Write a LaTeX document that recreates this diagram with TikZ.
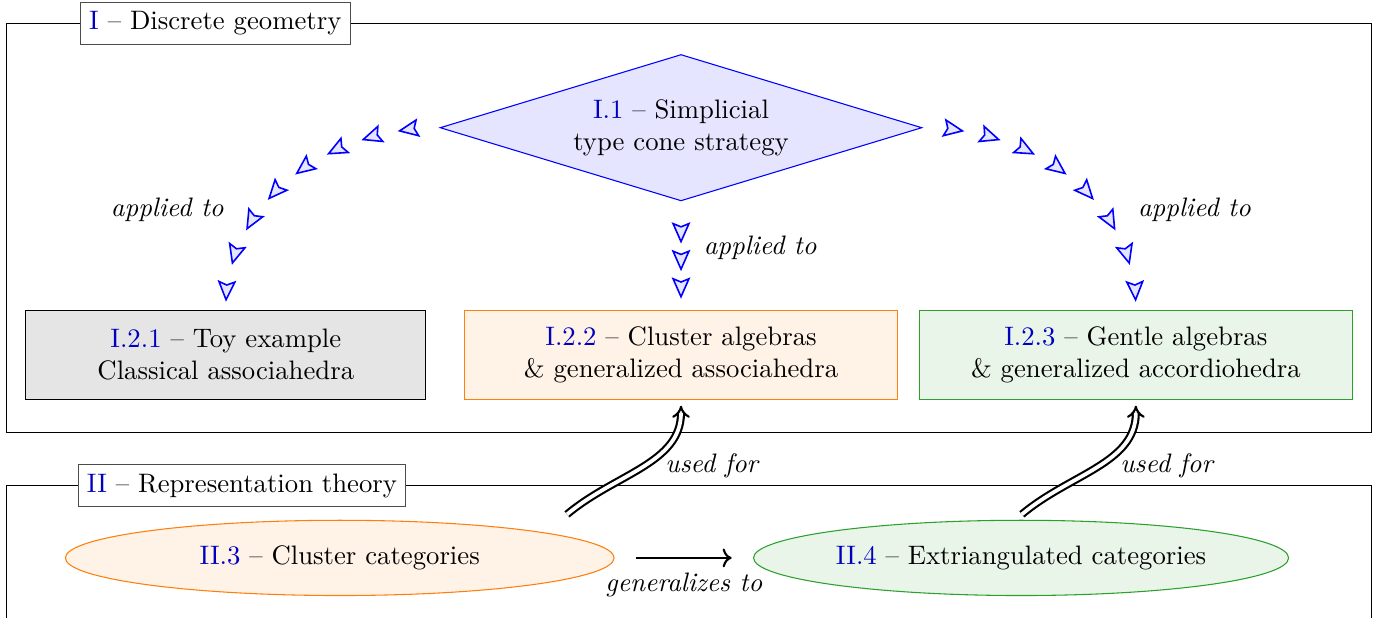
\documentclass[tikz,border=0pt]{standalone}
\usepackage{tikz}
\usepackage{xcolor}
\usetikzlibrary{positioning, shapes.geometric, arrows.meta, decorations.markings}
\definecolor{taborange}{RGB}{255,127,14}
\definecolor{tabgreen}{RGB}{44,160,44}
\newcommand{\partnum}[1]{\textcolor{blue!75!black}{#1}}
\tikzstyle{part title}=[
        draw = black!70,
        fill = white,
        anchor = west
    ]
\tikzstyle{strategy}=[
        draw = blue,
        fill = blue!10,
        diamond,
        aspect = 3.23,
        align = center,
        minimum width = 6.34cm
    ]
\tikzstyle{result}=[
        draw,
        rectangle,
        align = center,
        minimum width = 5.69cm,
        minimum height = 1.18cm
    ]
\tikzstyle{category}=[
        draw,
        ellipse,
        inner sep = 1.5pt,
        minimum height = 0.99cm
    ]
\tikzstyle{applied arc}=[
        postaction = {decorate},
        decoration = {markings, mark = between positions 0.135 and 0.98 step 0.12 with
          {\arrow{Stealth[length = 8pt, width = 7pt, inset = 1.4pt, line width = 0.6pt, color = blue, fill = blue!10]}}}
    ]
\tikzstyle{applied line}=[
        postaction = {decorate},
        decoration = {markings, mark = between positions 0.39 and 0.92 step 0.255 with
          {\arrow{Stealth[length = 8pt, width = 7pt, inset = 1.4pt, line width = 0.6pt, color = blue, fill = blue!10]}}}
    ]
\tikzstyle{used for}=[
        thick,
        double,
        double distance = 1.4pt,
        -Implies,
        shorten >= 2pt
    ]

\begin{document}
\begin{tikzpicture}[node distance={1.41cm}]
        \useasboundingbox (-8.96,1.68) rectangle (9.17,-6.45);
        \clip (-8.96,1.68) rectangle (9.17,-6.45);

        % part I
        \draw (-8.88,1.37) rectangle (9.08,-4.01);
        \node[part title] (tI) at (-7.91,1.37) {\partnum{I} -- Discrete geometry};

        \node[strategy] (strat) at (0,0) {\partnum{I.1} -- Simplicial\\type cone strategy};
        \node[result, draw = taborange, fill = taborange!10] (clus) at (0,-2.99) {\partnum{I.2.2} -- Cluster algebras\\\& generalized associahedra};
        \node[result, fill = gray!20, minimum width = 5.26cm] (toy) [left = 0.5cm of clus] {\partnum{I.2.1} -- Toy example\\Classical associahedra};
        \node[result, draw = tabgreen, fill = tabgreen!10] (gent) [right = 0.28cm of clus] {\partnum{I.2.3} -- Gentle algebras\\\& generalized accordiohedra};

        \path[applied arc] (strat.west) to[out = 180, in = 90] node [pos = 0.65, left = 10pt] {\textit{applied to}} (toy.north);
        \path[applied line] (strat.south) -- (clus.north) node [pos = 0.43, right = 5pt] {\textit{applied to}};
        \path[applied arc] (strat.east) to[out = 0, in = 90] node [pos = 0.65, right = 10pt] {\textit{applied to}} (gent.north);

        % part II
        \draw (-8.88,-4.71) rectangle (9.08,-7);
        \node[part title] (tII) at (-7.94,-4.71) {\partnum{II} -- Representation theory};

        \node[category, draw = taborange, fill = taborange!10, minimum width = 7.22cm] (ccat) at (-4.49,-5.66) {\partnum{II.3} -- Cluster categories};
        \node[category, draw = tabgreen, fill = tabgreen!10, minimum width = 7.04cm] (ecat) [right = 1.82cm of ccat] {\partnum{II.4} -- Extriangulated categories};

        \draw[->, thick, shorten <= 8pt, shorten >= 8pt] (ccat) -- (ecat) node [midway, below = 2pt] {\textit{generalizes to}};

        \coordinate (u1) at ([shift = {(-1.5,-1.5)}] clus.south);
        \coordinate (u2) at ([shift = {(-1.5,-1.5)}] gent.south);
        \draw[used for] (u1) to[out = 40, in = -90] node [midway, right = 5pt] {\textit{used for}} (clus.south);
        \draw[used for] (u2) to[out = 40, in = -90] node [midway, right = 5pt] {\textit{used for}} (gent.south);
    \end{tikzpicture}
\end{document}
